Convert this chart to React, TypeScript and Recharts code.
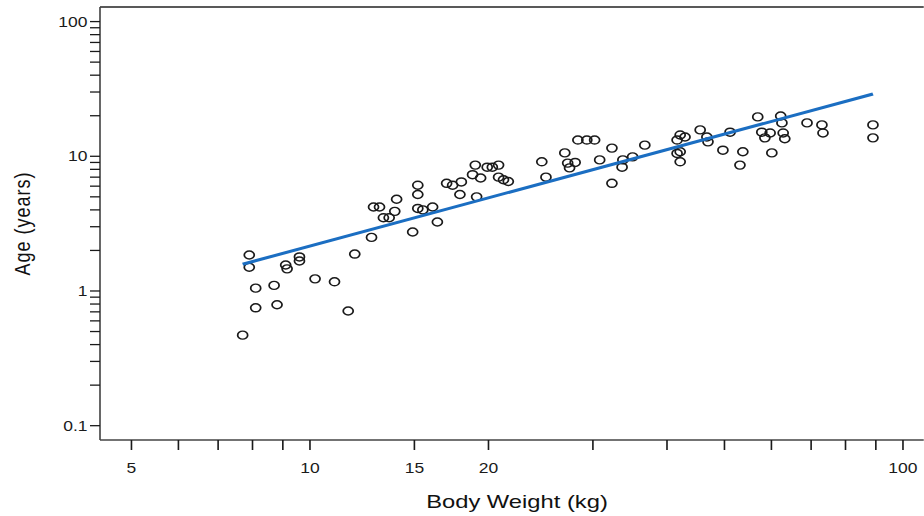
import React from 'react';
import { ScatterChart, Scatter, XAxis, YAxis, ReferenceLine } from 'recharts';

// body weight (kg) and age (years)
const bodyWeight = [
  7.7, 7.9, 7.9, 8.1, 8.1, 8.7, 8.8, 9.1, 9.15, 9.6, 9.6, 10.2, 11.0, 11.6, 11.9,
  12.7, 12.8, 13.1, 14.0, 13.3, 13.6, 13.9, 15.2, 15.2, 15.2, 15.5, 16.1, 14.9, 16.4,
  17.0, 17.4, 18.0, 17.9, 19.0, 18.8, 19.4, 19.1, 19.9, 20.3, 20.8, 20.8, 21.2, 21.6,
  24.6, 25.0, 26.9, 27.2, 27.4, 28.0, 28.3, 29.3, 30.2, 32.3, 30.8, 32.3, 33.7, 35.0,
  33.6, 36.7, 42.1, 42.9, 41.6, 42.1, 41.6, 42.1, 45.5, 46.7, 46.9, 49.7, 51.1, 53.7,
  53.1, 56.9, 57.8, 58.5, 59.7, 60.1, 62.2, 62.5, 62.8, 63.2, 68.9, 73.0, 73.3, 89.0, 89.0,
];
const age = [
  0.47, 1.85, 1.5, 1.05, 0.75, 1.1, 0.79, 1.56, 1.46, 1.79, 1.67, 1.23, 1.17, 0.71, 1.88,
  2.5, 4.2, 4.2, 4.8, 3.5, 3.5, 3.9, 6.1, 5.2, 4.1, 4.0, 4.2, 2.74, 3.25,
  6.3, 6.1, 6.45, 5.2, 8.6, 7.3, 6.9, 5.0, 8.3, 8.3, 8.6, 7.0, 6.7, 6.5,
  9.1, 7.0, 10.6, 8.9, 8.2, 9.0, 13.2, 13.2, 13.2, 11.5, 9.4, 6.3, 9.4, 9.9,
  8.3, 12.1, 14.4, 13.9, 13.2, 10.8, 10.5, 9.1, 15.7, 13.9, 12.8, 11.1, 15.1, 10.8,
  8.6, 19.6, 15.1, 13.7, 14.9, 10.6, 19.9, 17.7, 14.9, 13.5, 17.7, 17.1, 14.9, 17.1, 13.7,
];

// fitted regression line end points
const fitWeight = [7.7, 89];
const fitAge = [1.58, 29];

const xTicks = [5, 6, 7, 8, 9, 10, 15, 20, 30, 40, 50, 60, 70, 80, 90, 100];
const xLabels = [5, 10, 15, 20, 100];
const yTicks = [
  0.1, 0.2, 0.3, 0.4, 0.5, 0.6, 0.7, 0.8, 0.9,
  1, 2, 3, 4, 5, 6, 7, 8, 9,
  10, 20, 30, 40, 50, 60, 70, 80, 90, 100,
];
const yLabels = [0.1, 1, 10, 100];

const points = bodyWeight.map((w, i) => ({ w, a: age[i] }));
const fit = fitWeight.map((w, i) => ({ w, a: fitAge[i] }));

const X_DOMAIN: [number, number] = [4.425, 108.5];
const Y_DOMAIN: [number, number] = [0.0783, 128.3];

// the original is stretched sideways, so draw narrow and scale x
const STRETCH = 1.25;
const W = 924 / STRETCH;
const H = 516;

const FONT = '"Liberation Sans", Arial, sans-serif';
const INK = '#1a1a1a';

const Ring = (props: any) => {
  const { cx, cy } = props;
  if (cx == null || cy == null) return <g />;
  return <circle cx={cx} cy={cy} r={4} fill="none" stroke={INK} strokeWidth={1.4} />;
};

const NoDot = () => <g />;

export default function App() {
  return (
    <div style={{ position: 'absolute', left: 0, top: 0, width: 924, height: H, background: '#fff', overflow: 'hidden' }}>
      <div style={{ width: W, height: H, transform: `scaleX(${STRETCH})`, transformOrigin: 'left top' }}>
        <ScatterChart width={W} height={H} margin={{ top: 7, right: 0, bottom: 0, left: 0 }}>
          <XAxis
            type="number" dataKey="w" scale="log" domain={X_DOMAIN} allowDataOverflow
            ticks={xTicks} interval={0} height={76}
            tickFormatter={(v: number) => (xLabels.includes(v) ? String(v) : '')}
            tickSize={10} tickMargin={13}
            tick={{ fill: INK, fontSize: 14, fontFamily: FONT }}
            axisLine={{ stroke: '#444', strokeWidth: 1.3 }} tickLine={{ stroke: INK, strokeWidth: 1.3 }}
            label={{ value: 'Body Weight (kg)', position: 'insideBottom', offset: 8, dx: 4,
              style: { fill: '#111', fontSize: 19, fontFamily: FONT } }}
          />
          <YAxis
            type="number" dataKey="a" scale="log" domain={Y_DOMAIN} allowDataOverflow
            ticks={yTicks} interval={0} width={80}
            tickFormatter={(v: number) => (yLabels.includes(v) ? String(v) : '')}
            tickSize={8} tickMargin={2}
            tick={{ fill: INK, fontSize: 14, fontFamily: FONT }}
            axisLine={{ stroke: '#444', strokeWidth: 1.3 }} tickLine={{ stroke: INK, strokeWidth: 1.3 }}
            label={{ value: 'Age (years)', angle: -90, position: 'insideLeft', offset: 18,
              style: { textAnchor: 'middle', fill: '#111', fontSize: 18, fontFamily: FONT, letterSpacing: 1 } }}
          />
          <ReferenceLine y={Y_DOMAIN[1]} stroke="#222" strokeWidth={1.3} />
          <Scatter data={points} shape={Ring} isAnimationActive={false} />
          <Scatter data={fit} shape={NoDot} line={{ stroke: '#1b6ec2', strokeWidth: 3 }} isAnimationActive={false} />
        </ScatterChart>
      </div>
    </div>
  );
}
